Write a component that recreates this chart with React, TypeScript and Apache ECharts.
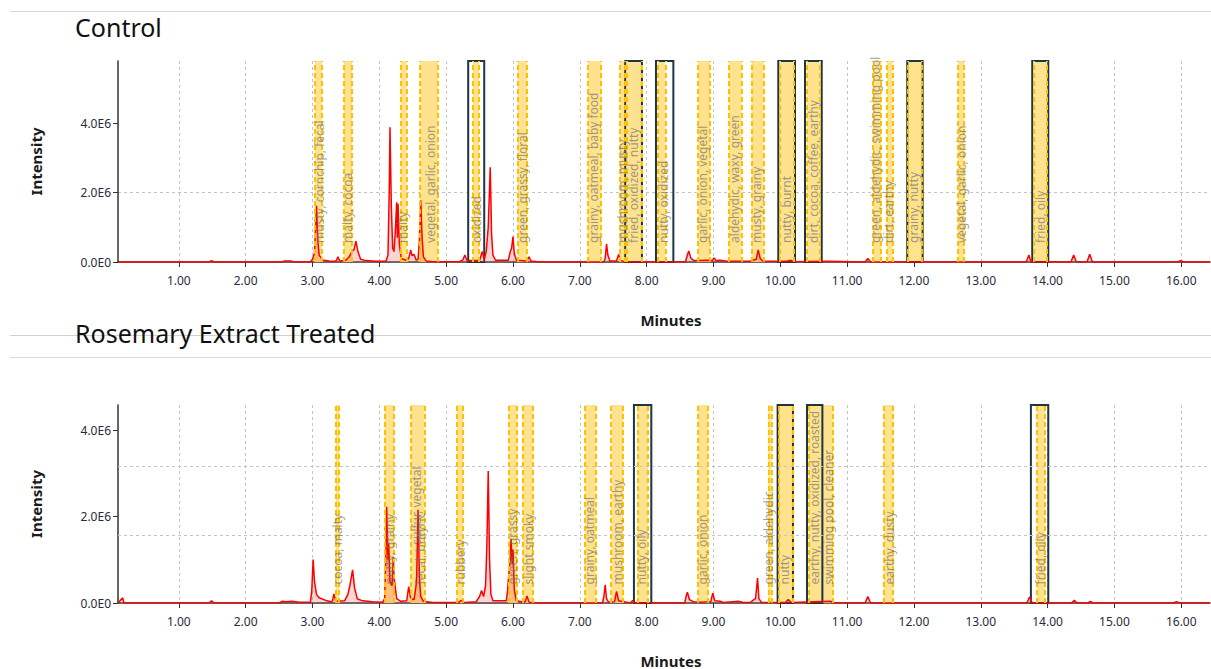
import React, { useEffect, useRef } from 'react';
import * as echarts from 'echarts';

const FONT = "'Noto Sans', sans-serif";

// axis ranges and ticks
const xMin = 0.09;
const xMax = 16.43;
const xTicks = [1, 2, 3, 4, 5, 6, 7, 8, 9, 10, 11, 12, 13, 14, 15, 16];
const controlYMax = 5.79e6;
const treatedYMax = 4.59e6;
const yTicks = [0, 2e6, 4e6];
const treatedGridLines = [1.57e6, 3.17e6];

// chromatogram traces [minutes, intensity]
const controlTrace: [number, number][] = [
  [0.09, 0], [1.45, 0], [1.49, 0.04e6], [1.53, 0],
  [2.55, 0], [2.58, 0.03e6], [2.68, 0.03e6], [2.72, 0],
  [2.97, 0], [3.0, 0.08e6], [3.03, 0.25e6], [3.06, 1.62e6], [3.08, 0.6e6], [3.1, 0.2e6], [3.15, 0.06e6], [3.25, 0.03e6], [3.33, 0.02e6],
  [3.36, 0.04e6], [3.38, 0.15e6], [3.41, 0.03e6],
  [3.5, 0.05e6], [3.55, 0.15e6], [3.59, 0.3e6], [3.62, 0.35e6], [3.65, 0.6e6], [3.68, 0.3e6], [3.72, 0.08e6], [3.8, 0.04e6], [3.95, 0.02e6], [4.1, 0.02e6],
  [4.13, 0.2e6], [4.15, 2.2e6], [4.16, 3.88e6], [4.18, 1.6e6], [4.2, 0.4e6], [4.22, 0.3e6], [4.24, 0.9e6], [4.26, 1.72e6], [4.27, 0.7e6], [4.28, 1.68e6], [4.3, 0.5e6], [4.33, 0.1e6], [4.4, 0.05e6],
  [4.44, 0.1e6], [4.47, 0.35e6], [4.49, 0.18e6], [4.52, 0.22e6], [4.55, 0.06e6],
  [4.58, 0.08e6], [4.6, 0.6e6], [4.62, 1.78e6], [4.64, 0.7e6], [4.66, 0.15e6], [4.7, 0.03e6], [4.8, 0.01e6],
  [5.2, 0.01e6], [5.25, 0.06e6], [5.28, 0.2e6], [5.31, 0.05e6],
  [5.5, 0.04e6], [5.54, 0.3e6], [5.57, 0.08e6], [5.6, 0.3e6], [5.63, 1.0e6], [5.66, 2.73e6], [5.68, 0.8e6], [5.7, 0.2e6], [5.74, 0.05e6],
  [5.93, 0.05e6], [5.96, 0.3e6], [5.98, 0.4e6], [6.0, 0.73e6], [6.02, 0.25e6], [6.05, 0.05e6],
  [6.21, 0.03e6], [6.24, 0.15e6], [6.27, 0.03e6],
  [6.4, 0], [7.36, 0], [7.38, 0.1e6], [7.4, 0.52e6], [7.42, 0.2e6], [7.45, 0.03e6],
  [7.55, 0.03e6], [7.58, 0.22e6], [7.61, 0.04e6],
  [7.7, 0], [8.58, 0], [8.61, 0.2e6], [8.63, 0.32e6], [8.66, 0.12e6], [8.7, 0.05e6], [8.8, 0.04e6], [8.9, 0.05e6],
  [8.98, 0.04e6], [9.01, 0.12e6], [9.04, 0.04e6], [9.1, 0.05e6], [9.2, 0.02e6],
  [9.55, 0.02e6], [9.64, 0.08e6], [9.67, 0.35e6], [9.7, 0.1e6], [9.74, 0.02e6],
  [10.1, 0.02e6], [10.15, 0.05e6], [10.2, 0.01e6], [10.7, 0.02e6],
  [11.27, 0], [11.31, 0.1e6], [11.35, 0],
  [13.68, 0], [13.72, 0.2e6], [13.75, 0],
  [14.35, 0], [14.39, 0.2e6], [14.43, 0],
  [14.59, 0], [14.63, 0.22e6], [14.67, 0],
  [15.94, 0], [15.99, 0.04e6], [16.04, 0], [16.43, 0],
];

const treatedTrace: [number, number][] = [
  [0.09, 0], [0.16, 0.12e6], [0.18, 0], [1.45, 0], [1.49, 0.05e6], [1.53, 0],
  [2.5, 0], [2.55, 0.04e6], [2.6, 0.03e6], [2.7, 0.04e6], [2.8, 0.02e6],
  [2.97, 0.02e6], [2.99, 0.3e6], [3.01, 1.01e6], [3.03, 0.5e6], [3.06, 0.2e6], [3.1, 0.12e6], [3.2, 0.06e6], [3.28, 0.03e6],
  [3.3, 0.05e6], [3.32, 0.21e6], [3.35, 0.04e6],
  [3.48, 0.05e6], [3.53, 0.2e6], [3.56, 0.41e6], [3.6, 0.77e6], [3.63, 0.35e6], [3.67, 0.1e6], [3.75, 0.05e6], [3.9, 0.03e6], [4.05, 0.02e6],
  [4.08, 0.1e6], [4.1, 1.2e6], [4.11, 2.23e6], [4.13, 1.0e6], [4.14, 1.39e6], [4.16, 0.5e6], [4.19, 0.4e6], [4.21, 1.07e6], [4.22, 0.6e6], [4.23, 0.48e6], [4.26, 0.1e6], [4.32, 0.04e6],
  [4.41, 0.05e6], [4.44, 0.38e6], [4.47, 0.1e6], [4.52, 0.08e6], [4.55, 0.4e6], [4.56, 0.65e6], [4.58, 2.16e6], [4.6, 0.6e6], [4.62, 0.15e6], [4.66, 0.04e6], [4.8, 0.01e6],
  [5.18, 0.01e6], [5.23, 0.06e6], [5.27, 0.01e6],
  [5.45, 0.03e6], [5.5, 0.15e6], [5.53, 0.29e6], [5.56, 0.15e6], [5.59, 0.4e6], [5.61, 1.36e6], [5.63, 3.06e6], [5.65, 1.0e6], [5.67, 0.2e6], [5.7, 0.05e6],
  [5.9, 0.05e6], [5.92, 0.3e6], [5.94, 0.71e6], [5.96, 1.0e6], [5.97, 1.49e6], [5.99, 0.9e6], [6.0, 1.24e6], [6.02, 0.3e6], [6.05, 0.05e6],
  [6.18, 0.02e6], [6.21, 0.16e6], [6.24, 0.02e6],
  [6.4, 0], [7.34, 0], [7.36, 0.15e6], [7.38, 0.42e6], [7.4, 0.1e6], [7.43, 0.02e6],
  [7.52, 0.03e6], [7.55, 0.27e6], [7.58, 0.05e6],
  [7.76, 0], [7.79, 0.06e6], [7.82, 0],
  [8.57, 0], [8.59, 0.15e6], [8.61, 0.25e6], [8.64, 0.08e6], [8.7, 0.03e6], [8.8, 0.02e6],
  [8.96, 0.03e6], [8.99, 0.23e6], [9.02, 0.05e6], [9.1, 0.04e6], [9.15, 0.01e6], [9.37, 0.04e6], [9.45, 0.01e6],
  [9.56, 0.02e6], [9.59, 0.06e6], [9.63, 0.1e6], [9.66, 0.58e6], [9.68, 0.1e6], [9.72, 0.01e6],
  [10.08, 0.01e6], [10.12, 0.08e6], [10.16, 0.01e6], [10.75, 0.04e6], [10.8, 0],
  [11.27, 0], [11.31, 0.15e6], [11.35, 0],
  [13.69, 0], [13.73, 0.14e6], [13.77, 0],
  [14.36, 0], [14.4, 0.06e6], [14.44, 0],
  [14.6, 0], [14.64, 0.04e6], [14.68, 0],
  [15.88, 0], [15.93, 0.03e6], [15.98, 0], [16.43, 0],
];

// odor windows [start, end] in minutes
const controlBands: [number, number][] = [
  [3.04, 3.14], [3.47, 3.59], [4.32, 4.41], [4.61, 4.88], [5.40, 5.49], [6.07, 6.21],
  [7.12, 7.32], [7.60, 7.68], [7.71, 7.92], [8.17, 8.28], [8.77, 8.95], [9.23, 9.42],
  [9.57, 9.75], [9.99, 10.20], [10.40, 10.59], [11.39, 11.51], [11.60, 11.68],
  [11.91, 12.12], [12.66, 12.75], [13.80, 13.99],
];
const controlBoxes: [number, number][] = [
  [5.33, 5.57], [7.68, 7.93], [8.14, 8.40], [9.97, 10.22], [10.37, 10.62], [11.90, 12.13], [13.77, 14.01],
];
const controlLabels: [number, string, number?][] = [
  [3.10, 'musty, cornchip, fecal'],
  [3.53, 'malty, cocoa'],
  [4.35, 'malty'],
  [4.76, 'vegetal, garlic, onion'],
  [5.45, 'oxidized'],
  [6.15, 'green, grassy, floral'],
  [7.21, 'grainy, oatmeal, baby food'],
  [7.64, 'mushroom, musty'],
  [7.80, 'fried, oxidized, nutty'],
  [8.25, 'nutty, oxidized'],
  [8.84, 'garlic, onion, vegetal'],
  [9.32, 'aldehydic, waxy, green'],
  [9.65, 'musty, grainy'],
  [10.10, 'nutty, burnt'],
  [10.49, 'dirt, cocoa, coffee, earthy'],
  [11.43, 'green, aldehydic, swimming pool'],
  [11.62, 'dirt, earthy'],
  [11.99, 'grainy, nutty'],
  [12.71, 'vegetal, garlic, onion'],
  [13.89, 'fried, oily'],
];

const treatedBands: [number, number][] = [
  [3.35, 3.40], [4.08, 4.22], [4.47, 4.68], [5.16, 5.25], [5.94, 6.06], [6.15, 6.30],
  [7.08, 7.24], [7.47, 7.65], [7.86, 8.02], [8.77, 8.92], [9.82, 9.87], [9.97, 10.18],
  [10.43, 10.79], [11.55, 11.69], [13.84, 13.96],
];
const treatedBoxes: [number, number][] = [
  [7.81, 8.07], [9.96, 10.19], [10.40, 10.63], [13.75, 14.01],
];
const treatedLabels: [number, string, number?][] = [
  [3.38, 'cocoa, malty'],
  [4.15, 'nutty, grainy'],
  [4.56, 'sulfur, vegetal', 0.92e6],
  [4.62, 'fecal, butyric'],
  [5.21, 'rubbery'],
  [6.00, 'green, grassy'],
  [6.23, 'slight smoky'],
  [7.15, 'grainy, oatmeal'],
  [7.56, 'mushroom, earthy'],
  [7.93, 'nutty, oily'],
  [8.84, 'garlic, onion'],
  [9.83, 'green, aldehydic'],
  [10.07, 'nutty'],
  [10.51, 'earthy, nutty, oxidized, roasted'],
  [10.72, 'swimming pool, cleaner'],
  [11.63, 'earthy, dusty'],
  [13.89, 'fried, oily'],
];

const fmtY = (v: number) => (v === 0 ? '0.0E0' : (v / 1e6).toFixed(1) + 'E6');

function xAxisFor(gridIndex: number) {
  return {
    type: 'value',
    gridIndex,
    min: xMin,
    max: xMax,
    name: 'Minutes',
    nameLocation: 'middle',
    nameGap: 50,
    nameTextStyle: { fontWeight: 'bold', fontSize: 15, color: '#1a1a1a', fontFamily: FONT, padding: [0, 0, 0, 14] },
    axisLine: { show: true, onZero: false, lineStyle: { color: '#333', width: 1.5 } },
    axisTick: { show: true, length: 5, customValues: xTicks, lineStyle: { color: '#333' } },
    axisLabel: { customValues: xTicks, formatter: (v: number) => v.toFixed(2), margin: 12, fontSize: 12, color: '#2a2a3a', fontFamily: FONT },
    splitLine: { show: true, lineStyle: { color: '#c4c4c4', type: [3, 3], width: 1 } },
  };
}

function yAxisFor(gridIndex: number, max: number, split: boolean) {
  return {
    type: 'value',
    gridIndex,
    min: 0,
    max,
    name: 'Intensity',
    nameLocation: 'middle',
    nameGap: 75,
    nameRotate: 90,
    nameTextStyle: { fontWeight: 'bold', fontSize: 15, color: '#1a1a1a', fontFamily: FONT },
    axisLine: { show: true, lineStyle: { color: '#333', width: 1.5 } },
    axisTick: { show: true, length: 5, customValues: yTicks, lineStyle: { color: '#333' } },
    axisLabel: { customValues: yTicks, formatter: fmtY, margin: 7, fontSize: 12, color: '#2a2a3a', fontFamily: FONT },
    splitLine: { show: split, showMinLine: false, showMaxLine: false, lineStyle: { color: '#c4c4c4', type: [3, 3], width: 1 } },
  };
}

function panelSeries(
  idx: number,
  trace: [number, number][],
  bands: [number, number][],
  boxes: [number, number][],
  labels: [number, string, number?][],
  labelBase: number,
  hLines: number[]
) {
  const markLineData: any[] = [];
  bands.forEach(([s, e]) => {
    markLineData.push({ xAxis: s });
    markLineData.push({ xAxis: e });
  });
  hLines.forEach((v) => {
    markLineData.push({ yAxis: v, lineStyle: { color: '#c4c4c4', width: 1, type: [3, 3] } });
  });
  return [
    {
      type: 'line',
      xAxisIndex: idx,
      yAxisIndex: idx,
      data: [],
      z: 1,
      silent: true,
      markArea: {
        silent: true,
        itemStyle: { color: '#FFE28E' },
        data: bands.map(([s, e]) => [{ xAxis: s }, { xAxis: e }]),
      },
      markLine: {
        silent: true,
        symbol: ['none', 'none'],
        label: { show: false },
        lineStyle: { color: '#FFC000', width: 2, type: [5, 3] },
        data: markLineData,
      },
    },
    {
      type: 'line',
      xAxisIndex: idx,
      yAxisIndex: idx,
      data: trace,
      z: 3,
      symbol: 'none',
      showSymbol: false,
      silent: true,
      lineStyle: { color: '#FF0000', width: 1.5 },
      areaStyle: { color: 'rgba(255,80,80,0.35)' },
    },
    {
      type: 'line',
      xAxisIndex: idx,
      yAxisIndex: idx,
      data: [],
      z: 4,
      silent: true,
      markArea: {
        silent: true,
        itemStyle: { color: 'rgba(0,0,0,0)', borderColor: '#1D3547', borderWidth: 2 },
        data: boxes.map(([s, e]) => [{ xAxis: s }, { xAxis: e }]),
      },
    },
    {
      type: 'scatter',
      xAxisIndex: idx,
      yAxisIndex: idx,
      z: 5,
      silent: true,
      symbolSize: 0,
      data: labels.map(([x, t, lift]) => [x, labelBase + (lift || 0), t]),
      label: {
        show: true,
        position: 'inside',
        formatter: (p: any) => p.data[2],
        rotate: 90,
        align: 'left',
        verticalAlign: 'middle',
        fontSize: 12,
        color: 'rgba(110,110,110,0.85)',
        fontFamily: FONT,
      },
    },
  ];
}

export default function App() {
  const ref = useRef<HTMLDivElement>(null);
  useEffect(() => {
    if (!ref.current) return;
    const chart = echarts.init(ref.current, null, { renderer: 'svg' });
    chart.setOption({
      animation: false,
      backgroundColor: '#ffffff',
      textStyle: { fontFamily: FONT },
      title: [
        { text: 'Control', left: 70, top: 9, textStyle: { fontSize: 25, fontWeight: 'normal', color: '#111', fontFamily: FONT } },
        { text: 'Rosemary Extract Treated', left: 70, top: 315, textStyle: { fontSize: 25, fontWeight: 'normal', color: '#111', fontFamily: FONT } },
      ],
      graphic: [
        { type: 'line', z: 0, silent: true, shape: { x1: 10, y1: 11.5, x2: 1211, y2: 11.5 }, style: { stroke: '#D9D9D9', lineWidth: 1 } },
        { type: 'line', z: 0, silent: true, shape: { x1: 10, y1: 335.5, x2: 1211, y2: 335.5 }, style: { stroke: '#D0D0D0', lineWidth: 1 } },
        { type: 'line', z: 0, silent: true, shape: { x1: 10, y1: 357.5, x2: 1211, y2: 357.5 }, style: { stroke: '#D9D9D9', lineWidth: 1 } },
      ],
      grid: [
        { left: 118, top: 61, width: 1092, height: 201 },
        { left: 118, top: 405, width: 1092, height: 201 },
      ],
      xAxis: [xAxisFor(0), xAxisFor(1)],
      yAxis: [yAxisFor(0, controlYMax, true), yAxisFor(1, treatedYMax, false)],
      series: [
        ...panelSeries(0, controlTrace, controlBands, controlBoxes, controlLabels, 0.55e6, []),
        ...panelSeries(1, treatedTrace, treatedBands, treatedBoxes, treatedLabels, 0.43e6, treatedGridLines),
      ],
    });
    return () => chart.dispose();
  }, []);
  return <div ref={ref} style={{ position: 'absolute', left: 0, top: 0, width: 1211, height: 669 }} />;
}
